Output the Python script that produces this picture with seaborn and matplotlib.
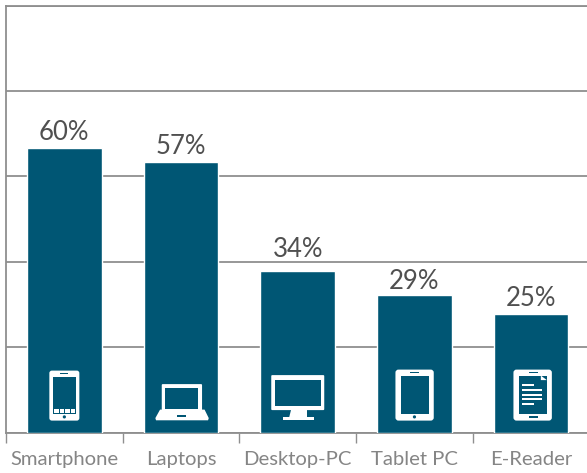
import numpy as np
import pandas as pd
import seaborn as sns
import matplotlib.pyplot as plt
from matplotlib.patches import FancyBboxPatch, Rectangle, Circle, Polygon
from matplotlib.transforms import Affine2D

devices = ['Smartphone', 'Laptops', 'Desktop-PC', 'Tablet PC', 'E-Reader']
shares = [60, 57, 34, 29, 25]
y_ticks = [0, 18, 36, 54, 72, 90]

BLUE = '#005674'
GREY = '#8f8f8f'

sns.set_theme(style='white')
plt.rcParams['font.family'] = ['Lato', 'DejaVu Sans']

W, H = 587, 473
fig = plt.figure(figsize=(W / 100, H / 100), dpi=100)
# the axes run a little past the right edge of the canvas, like the original
ax = fig.add_axes([6 / W, (H - 432.6) / H, 583.5 / W, 427 / H])

df = pd.DataFrame({'device': devices, 'share': shares})
sns.barplot(data=df, x='device', y='share', color=BLUE, saturation=1, width=0.64, ax=ax, zorder=3)

ax.set_xlim(-0.5, 4.5)
ax.set_ylim(y_ticks[0], y_ticks[-1])
ax.set_yticks(y_ticks)
ax.set_yticklabels([])
ax.tick_params(axis='y', length=0)
ax.grid(axis='y', color=GREY, lw=1.3, zorder=1)
ax.set_axisbelow(True)
ax.set_xlabel('')
ax.set_ylabel('')

# ticks sit between the categories
ax.set_xticks(np.arange(-0.5, 5, 1), minor=True)
ax.tick_params(axis='x', which='minor', length=7.5, width=1, color=GREY, bottom=True)
ax.tick_params(axis='x', which='major', length=0, pad=13, labelsize=14.6, labelcolor='#858585')

for side in ['left', 'top', 'bottom']:
    ax.spines[side].set_color(GREY)
    ax.spines[side].set_linewidth(1.3)
ax.spines['right'].set_visible(False)

# the labels don't all sit the same distance above their bar in the original
label_pads = [2, 2, 7, 0.5, 2]
for bar, val, pad in zip(ax.containers[0], shares, label_pads):
    ax.annotate('%d%%' % val, (bar.get_x() + bar.get_width() / 2, val), xytext=(0, pad),
                textcoords='offset points', ha='center', va='bottom',
                fontsize=18.5, color='#505050')


# icons: pixel offsets from the middle of each bar, y measured up from the baseline
def box(tr, x0, y0, x1, y1, color='white', r=0):
    if r:
        p = FancyBboxPatch((x0 + r, y0 + r), x1 - x0 - 2 * r, y1 - y0 - 2 * r,
                           boxstyle='round,pad=%s,rounding_size=%s' % (r, r),
                           fc=color, ec='none', transform=tr, zorder=5)
    else:
        p = Rectangle((x0, y0), x1 - x0, y1 - y0, fc=color, ec='none', transform=tr, zorder=5)
    ax.add_patch(p)


def poly(tr, pts, color='white'):
    ax.add_patch(Polygon(pts, closed=True, fc=color, ec='none', transform=tr, zorder=5))


def dot(tr, x, y, r, color=BLUE):
    ax.add_patch(Circle((x, y), r, fc=color, ec='none', transform=tr, zorder=6))


def phone(tr):
    box(tr, -15, 12, 15, 62, r=2.5)
    box(tr, -11.7, 19, 12, 55.7, BLUE)
    box(tr, -4, 58.5, 4, 60, BLUE)
    dot(tr, 0, 15.7, 1.6)
    for x0 in [-10, -4.3, 1, 6.7]:
        box(tr, x0, 19.7, x0 + 4.2, 24)


def laptop(tr):
    box(tr, -19.3, 20, 21, 48.5, r=1)
    box(tr, -15.7, 23.7, 17, 44.7, BLUE)
    poly(tr, [(-21, 23), (23.5, 23), (27.7, 14.5), (27, 12.3), (-25, 12.3), (-25.7, 14.5)])
    box(tr, -4.5, 15.8, 5, 18, BLUE)


def monitor(tr):
    box(tr, -26.5, 22.5, 26.5, 57.5, r=1)
    box(tr, -23, 26.5, 23, 53, BLUE)
    poly(tr, [(-7, 23), (9, 23), (9, 15), (-9, 15)])
    box(tr, -15, 12.5, 16, 15.5)


def tablet(tr):
    box(tr, -19, 12, 19.3, 63, r=3)
    box(tr, -13.7, 18.5, 14.3, 57, BLUE)
    box(tr, -4.3, 59.5, 4.3, 61, BLUE)
    dot(tr, 0, 15.7, 1.6)


def ereader(tr):
    box(tr, -17.7, 12, 20.7, 63, r=3)
    box(tr, -12.3, 18.5, 15.7, 57, BLUE)
    box(tr, -2, 59.5, 7, 61, BLUE)
    box(tr, -2, 14.7, 7, 16.2, BLUE)
    for y, x1 in [(47.7, 2.5), (43, 11), (38, 11), (33.5, 11), (29, 2.5)]:
        box(tr, -9.3, y - 1, x1, y + 1)
    poly(tr, [(9.7, 57), (15.7, 52.5), (9.7, 52.5)])


icons = [phone, laptop, monitor, tablet, ereader]
for bar, draw in zip(ax.containers[0], icons):
    cx, base = ax.transData.transform((bar.get_x() + bar.get_width() / 2, 0))
    draw(Affine2D().translate(cx, base))

fig.savefig('out.png', dpi=100, facecolor='white')
